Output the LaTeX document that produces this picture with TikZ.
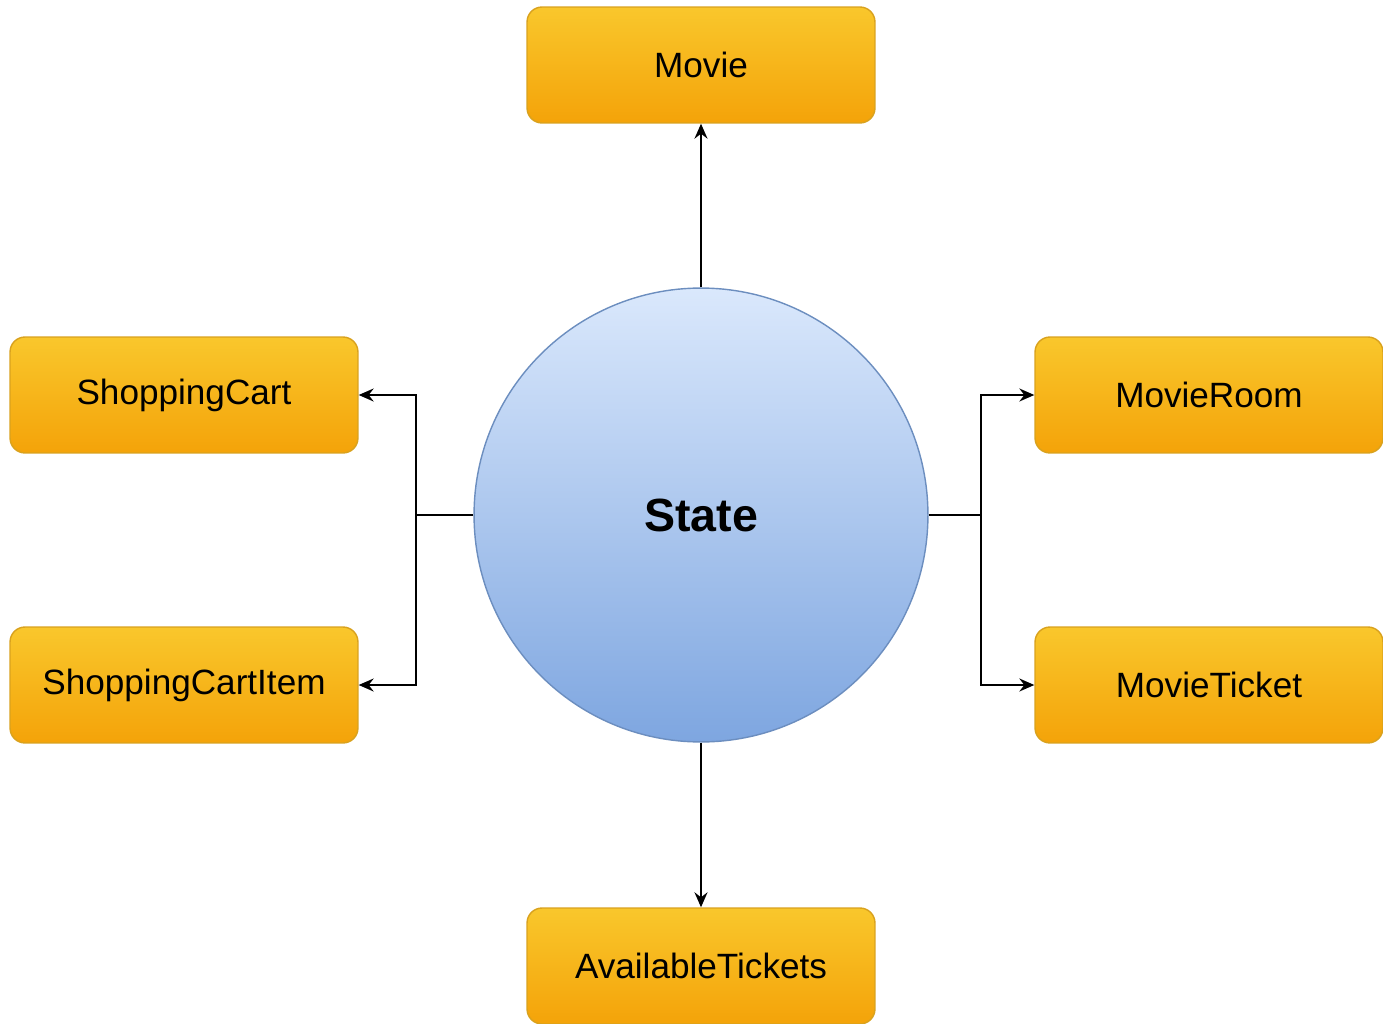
\documentclass[tikz,border=0pt]{standalone}
\usepackage{fontspec}
\setmainfont{Liberation Sans}
\usetikzlibrary{positioning,arrows.meta}

\definecolor{boxtop}{HTML}{F9C72C}
\definecolor{boxbot}{HTML}{F4A309}
\definecolor{boxline}{HTML}{D9A21E}
\definecolor{statetop}{HTML}{DAE8FC}
\definecolor{statebot}{HTML}{7EA6E0}
\definecolor{stateline}{HTML}{6C8EBF}

\tikzset{
  entity/.style={draw=boxline, line width=0.8pt, rounded corners=0.3cm,
    top color=boxtop, bottom color=boxbot,
    minimum width=6.96cm, minimum height=2.32cm, inner sep=0pt,
    font=\fontsize{20}{24}\selectfont},
  statebox/.style={circle, draw=stateline, line width=0.8pt,
    top color=statetop, bottom color=statebot,
    minimum size=9.08cm, inner sep=0pt,
    font=\fontsize{26.5}{31}\selectfont\bfseries},
  link/.style={line width=1.1pt, -{Stealth[length=0.3cm,width=0.26cm,inset=0.1cm]}}
}

\begin{document}
\begin{tikzpicture}[x=0.02cm,y=-0.02cm]
  \useasboundingbox (0,0) rectangle (1383,1024);

  \def \midx {701}
  \def \leftx {184}
  \def \rightx {1209}

  \node[statebox] (state) at (\midx,515) {State};

  \node[entity] (movie) at (\midx,65) {Movie};
  \node[entity] (tickets) at (\midx,966) {AvailableTickets};
  \node[entity] (cart) at (\leftx,395) {ShoppingCart};
  \node[entity] (cartitem) at (\leftx,685) {ShoppingCartItem};
  \node[entity] (room) at (\rightx,395) {MovieRoom};
  \node[entity] (ticket) at (\rightx,685) {MovieTicket};

  \coordinate (ljoin) at (416,515);
  \coordinate (rjoin) at (981,515);

  \draw[link] (state.north) -- (movie.south);
  \draw[link] (state.south) -- (tickets.north);

  \draw[line width=1.1pt] (state.west) -- (ljoin);
  \draw[link] (ljoin) |- (cart.east);
  \draw[link] (ljoin) |- (cartitem.east);

  \draw[line width=1.1pt] (state.east) -- (rjoin);
  \draw[link] (rjoin) |- (room.west);
  \draw[link] (rjoin) |- (ticket.west);
\end{tikzpicture}
\end{document}
